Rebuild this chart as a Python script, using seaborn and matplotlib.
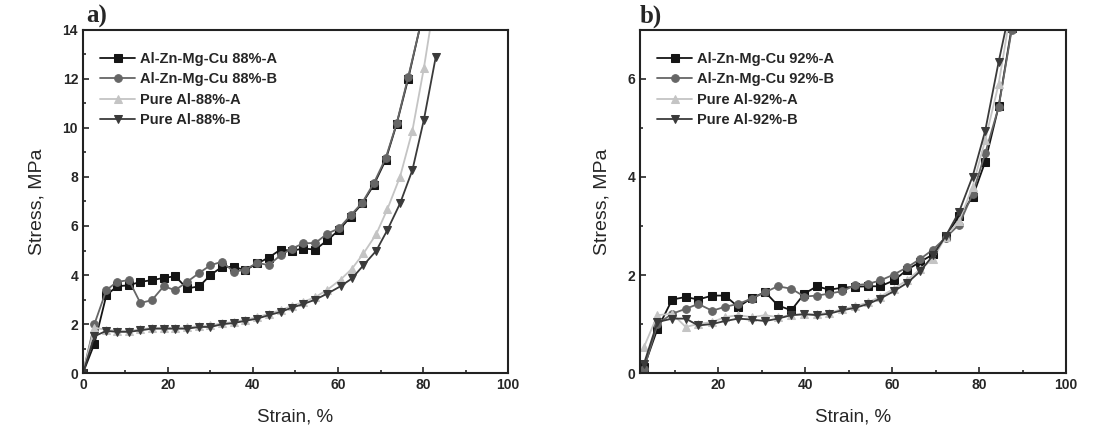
import pandas as pd
import seaborn as sns
import matplotlib.pyplot as plt
from matplotlib.ticker import MultipleLocator

# --- data, panel a (88 %) ---
x_a_alloy = [0, 2.7, 5.5, 8, 10.8, 13.5, 16.2, 19, 21.7, 24.5, 27.4, 30, 32.7, 35.5, 38.2, 41,
             43.7, 46.5, 49.2, 51.8, 54.7, 57.5, 60.2, 63, 65.7, 68.4, 71.2, 73.8, 76.5, 79.4, 81]
y_a_alloy_A = [0, 1.2, 3.17, 3.54, 3.58, 3.72, 3.79, 3.88, 3.95, 3.45, 3.54, 4.0, 4.33, 4.33, 4.2, 4.47,
               4.71, 5.04, 4.99, 5.08, 5.04, 5.42, 5.83, 6.38, 6.92, 7.67, 8.69, 10.16, 12.0, 14.2, 16]
y_a_alloy_B = [0, 2.0, 3.38, 3.72, 3.79, 2.86, 2.97, 3.54, 3.38, 3.72, 4.09, 4.4, 4.54, 4.13, 4.22, 4.5,
               4.4, 4.81, 5.08, 5.29, 5.31, 5.69, 5.9, 6.44, 6.95, 7.74, 8.76, 10.19, 12.07, 14.2, 16]
x_a_pure = [0, 2.7, 5.5, 8, 10.8, 13.5, 16.2, 19, 21.7, 24.5, 27.4, 30, 32.7, 35.5, 38.2, 41,
            43.7, 46.5, 49.2, 51.8, 54.7, 57.5, 60.6, 63.3, 66, 69, 71.6, 74.6, 77.5, 80.2, 83]
y_a_pure_A = [0, 1.85, 1.76, 1.72, 1.72, 1.78, 1.84, 1.84, 1.84, 1.86, 1.92, 1.94, 2.03, 2.08, 2.18, 2.27,
              2.42, 2.56, 2.74, 2.9, 3.1, 3.4, 3.81, 4.26, 4.88, 5.67, 6.68, 8.01, 9.89, 12.44, 15.5]
y_a_pure_B = [0, 1.5, 1.72, 1.68, 1.68, 1.74, 1.81, 1.81, 1.81, 1.81, 1.88, 1.88, 1.99, 2.04, 2.13, 2.22,
              2.36, 2.49, 2.67, 2.81, 3.0, 3.24, 3.54, 3.86, 4.4, 4.99, 5.83, 6.92, 8.28, 10.33, 12.9]

# --- data, panel b (92 %) ---
x_b = [2.9, 6, 9.4, 12.5, 15.4, 18.6, 21.5, 24.6, 27.7, 30.8, 33.7, 36.8, 39.8, 42.7, 45.5,
       48.5, 51.5, 54.5, 57.3, 60.4, 63.5, 66.5, 69.4, 72.3, 75.4, 78.5, 81.4, 84.5, 87.5]
y_b_alloy_A = [0.12, 0.9, 1.5, 1.55, 1.5, 1.58, 1.58, 1.35, 1.53, 1.65, 1.38, 1.28, 1.62, 1.77, 1.7,
               1.74, 1.76, 1.77, 1.77, 1.89, 2.11, 2.27, 2.42, 2.79, 3.2, 3.59, 4.31, 5.44, 7.05]
y_b_alloy_B = [0.09, 1.0, 1.21, 1.31, 1.41, 1.27, 1.35, 1.41, 1.52, 1.65, 1.77, 1.72, 1.56, 1.58, 1.62,
               1.67, 1.79, 1.82, 1.89, 2.01, 2.16, 2.33, 2.52, 2.76, 3.03, 3.65, 4.48, 5.43, 7.0]
y_b_pure_A = [0.53, 1.18, 1.21, 0.94, 1.0, 1.04, 1.14, 1.18, 1.14, 1.18, 1.14, 1.18, 1.2, 1.2, 1.23,
              1.3, 1.36, 1.44, 1.56, 1.72, 1.9, 2.12, 2.33, 2.78, 3.1, 3.8, 4.75, 5.9, 7.5]
y_b_pure_B = [0.19, 1.04, 1.11, 1.11, 0.97, 1.0, 1.06, 1.11, 1.09, 1.06, 1.11, 1.18, 1.2, 1.18, 1.21,
              1.28, 1.33, 1.41, 1.52, 1.67, 1.84, 2.08, 2.4, 2.79, 3.29, 4.01, 4.94, 6.35, 7.6]

labels_a = ['Al-Zn-Mg-Cu 88%-A', 'Al-Zn-Mg-Cu 88%-B', 'Pure Al-88%-A', 'Pure Al-88%-B']
labels_b = ['Al-Zn-Mg-Cu 92%-A', 'Al-Zn-Mg-Cu 92%-B', 'Pure Al-92%-A', 'Pure Al-92%-B']

colori = ['#151515', '#666666', '#c4c4c4', '#3a3a3a']
marcatori = ['s', 'o', '^', 'v']

sns.set_style('ticks')
plt.rcParams['font.family'] = ['Liberation Sans', 'DejaVu Sans']

fig = plt.figure(figsize=(11.18, 4.26), dpi=100)
ax_a = fig.add_axes([0.0742, 0.1244, 0.3802, 0.8052])
ax_b = fig.add_axes([0.5725, 0.1244, 0.3810, 0.8052])

serie_a = [(x_a_alloy, y_a_alloy_A), (x_a_alloy, y_a_alloy_B), (x_a_pure, y_a_pure_A), (x_a_pure, y_a_pure_B)]
serie_b = [(x_b, y_b_alloy_A), (x_b, y_b_alloy_B), (x_b, y_b_pure_A), (x_b, y_b_pure_B)]


def disegna(ax, serie, etichette):
    for (xs, ys), lab, col, mk in zip(serie, etichette, colori, marcatori):
        df = pd.DataFrame({'x': xs, 'y': ys})
        sns.lineplot(data=df, x='x', y='y', ax=ax, sort=False, color=col, marker=mk,
                     markersize=5.5, markeredgecolor=col, linewidth=1.3, label=lab)
    ax.legend(loc='upper left', frameon=False, prop={'weight': 'bold', 'size': 10.5},
              handlelength=2.4, handletextpad=0.3, labelspacing=0.45,
              bbox_to_anchor=(0.01, 0.975))
    ax.set_xlabel('Strain, %', fontsize=13.5, labelpad=12)
    ax.set_ylabel('Stress, MPa', fontsize=14, labelpad=12)
    ax.xaxis.set_major_locator(MultipleLocator(20))
    ax.xaxis.set_minor_locator(MultipleLocator(10))
    ax.tick_params(which='both', direction='in', labelsize=10)
    ax.tick_params(which='major', length=4, width=1.2)
    ax.tick_params(which='minor', length=2.5, width=1.2)
    for sp in ax.spines.values():
        sp.set_linewidth(1.5)
        sp.set_color('#222222')


disegna(ax_a, serie_a, labels_a)
ax_a.set_xlim(0, 100)
ax_a.set_ylim(0, 14)
ax_a.yaxis.set_major_locator(MultipleLocator(2))
ax_a.yaxis.set_minor_locator(MultipleLocator(1))

disegna(ax_b, serie_b, labels_b)
ax_b.set_xlim(2, 100)
ax_b.set_ylim(0, 7)
ax_b.yaxis.set_major_locator(MultipleLocator(2))
ax_b.yaxis.set_minor_locator(MultipleLocator(1))

for ax in (ax_a, ax_b):
    for lbl in ax.get_xticklabels() + ax.get_yticklabels():
        lbl.set_fontweight('bold')

fig.text(0.077, 0.962, 'a)', fontsize=18, fontweight='bold', family='Liberation Serif', va='center')
fig.text(0.572, 0.962, 'b)', fontsize=18, fontweight='bold', family='Liberation Serif', va='center')

fig.savefig('out.png', dpi=100)
